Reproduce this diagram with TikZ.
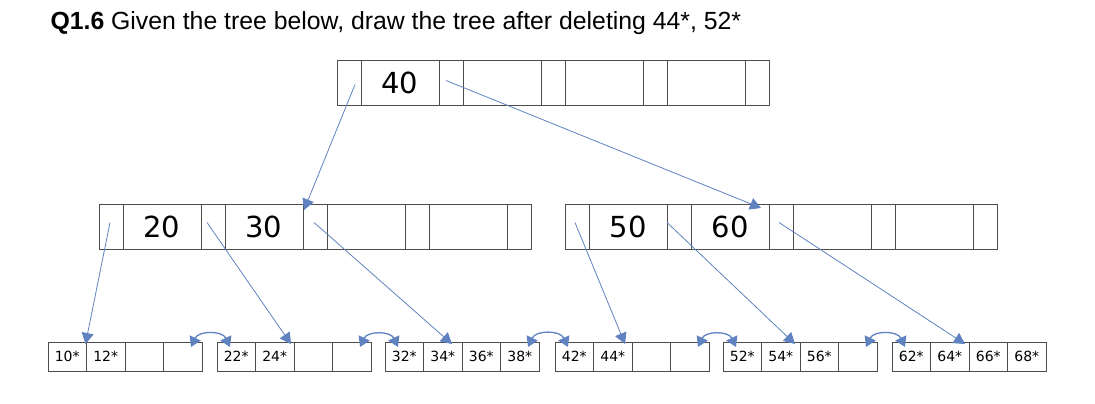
\documentclass[tikz,border=0pt]{standalone}
\usepackage{fontspec}
\setmainfont{Liberation Sans}
\newfontfamily\cellfont{DejaVu Sans}
\usetikzlibrary{arrows.meta}
\definecolor{ptrblue}{RGB}{96,130,192}
\tikzset{
  cell/.style={draw=black!70, line width=0.8pt, inner sep=0pt, outer sep=0pt, minimum height=45pt, font=\cellfont\fontsize{29}{30}\selectfont},
  leafcell/.style={draw=black!70, line width=0.7pt, inner sep=0pt, outer sep=0pt, minimum height=29pt, minimum width=38.5pt, font=\cellfont\fontsize{14}{15}\selectfont},
  ptr/.style={ptrblue, line width=0.8pt, -{Triangle[length=11pt,width=12pt]}},
  sib/.style={ptrblue, line width=1.3pt, {Triangle[length=10pt,width=12pt]}-{Triangle[length=10pt,width=12pt]}}
}
% inner node: name, left x, top y, four keys
\newcommand{\innerbox}[7]{
  \foreach \i/\k in {0/#4,1/#5,2/#6,3/#7} {
    \node[cell, minimum width=24pt] (#1-p\i) at (#2+\i*102+12, #3+22.5) {};
    \node[cell, minimum width=78pt] (#1-k\i) at (#2+\i*102+63, #3+22.5) {\k};
  }
  \node[cell, minimum width=24pt] (#1-p4) at (#2+4*102+12, #3+22.5) {};
}
% leaf node: name, left x, four entries
\newcommand{\leafbox}[6]{
  \foreach \i/\k in {1/#3,2/#4,3/#5,4/#6}
    \node[leafcell] (#1-c\i) at (#2+\i*38.5-19.25, 356.5) {\k};
}
\begin{document}
\begin{tikzpicture}[x=1pt,y=-1pt]
  \useasboundingbox (0,0) rectangle (1095,404);
  \node[anchor=base west, font=\fontsize{24.8}{27}\selectfont] (title) at (47,30)
    {\textbf{Q1.6} Given the tree below, draw the tree after deleting 44*, 52*};

  \innerbox{root}{337}{60}{40}{}{}{}
  \innerbox{innerL}{99}{204}{20}{30}{}{}
  \innerbox{innerR}{565}{204}{50}{60}{}{}

  \leafbox{leafA}{48}{10*}{12*}{}{}
  \leafbox{leafB}{217}{22*}{24*}{}{}
  \leafbox{leafC}{385}{32*}{34*}{36*}{38*}
  \leafbox{leafD}{555}{42*}{44*}{}{}
  \leafbox{leafE}{723}{52*}{54*}{56*}{}
  \leafbox{leafF}{892}{62*}{64*}{66*}{68*}

  % pointers
  \draw[ptr] ([xshift=6pt,yshift=-2pt]root-p0.center) -- ([xshift=1pt,yshift=-6pt]innerL-p2.north west);
  \draw[ptr] ([xshift=-5pt,yshift=2pt]root-p1.center) -- ([xshift=-8pt,yshift=-4pt]innerR-p2.north west);
  \draw[ptr] ([xshift=-1pt,yshift=4pt]innerL-p0.center) -- ([xshift=-1pt,yshift=-2pt]leafA-c2.north west);
  \draw[ptr] ([xshift=-6pt,yshift=4pt]innerL-p1.center) -- ([xshift=-3pt,yshift=-2pt]leafB-c3.north west);
  \draw[ptr] ([xshift=-1pt,yshift=4pt]innerL-p2.center) -- ([xshift=-10pt,yshift=-2pt]leafC-c3.north west);
  \draw[ptr] ([xshift=-2pt,yshift=4pt]innerR-p0.center) -- ([xshift=-7pt,yshift=-2pt]leafD-c3.north west);
  \draw[ptr] ([xshift=-12pt,yshift=4pt]innerR-p1.center) -- ([xshift=-5pt,yshift=-2pt]leafE-c3.north west);
  \draw[ptr] ([xshift=-2pt,yshift=4pt]innerR-p2.center) -- ([xshift=-4pt,yshift=-2pt]leafF-c3.north west);

  % sibling links
  \foreach \a/\b in {leafA/leafB,leafB/leafC,leafC/leafD,leafD/leafE,leafE/leafF}
    \draw[sib] ([xshift=-11pt,yshift=-5pt]\a-c4.north east) to[out=65,in=115,looseness=1.2] ([xshift=13pt,yshift=-5pt]\b-c1.north west);
\end{tikzpicture}
\end{document}
